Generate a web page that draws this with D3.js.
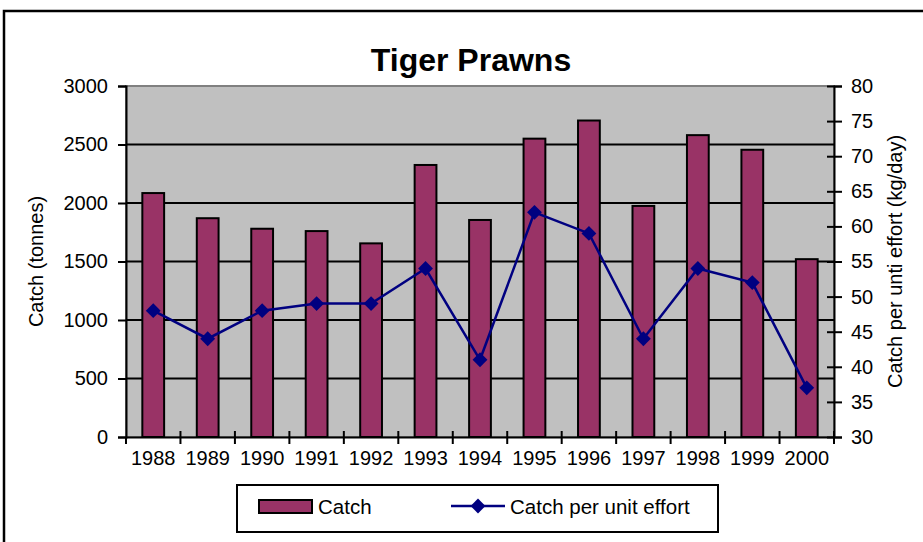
<!DOCTYPE html>
<html>
<head>
<meta charset="utf-8">
<script src="https://cdn.jsdelivr.net/npm/d3@7"></script>
<style>
  body { margin: 0; background: #fff; }
  text { font-family: "Liberation Sans", Arial, sans-serif; fill: #000; }
</style>
</head>
<body>
<div id="chart"></div>
<script>
// data
const years = ['1988', '1989', '1990', '1991', '1992', '1993', '1994',
  '1995', '1996', '1997', '1998', '1999', '2000'];
const catchTonnes = [2085, 1870, 1780, 1760, 1655, 2325, 1855,
  2550, 2705, 1975, 2580, 2455, 1520];
const cpue = [48, 44, 48, 49, 49, 54, 41, 62, 59, 44, 54, 52, 37];
const leftTicks = [0, 500, 1000, 1500, 2000, 2500, 3000];
const rightTicks = [30, 35, 40, 45, 50, 55, 60, 65, 70, 75, 80];

const W = 923, H = 542;
const plot = { left: 126, right: 834, top: 86, bottom: 437 };

const svg = d3.select('#chart')
  .append('svg')
  .attr('width', W)
  .attr('height', H);

// outer chart border (runs off the page on the right and bottom)
svg.append('rect')
  .attr('x', 4).attr('y', 11)
  .attr('width', 1000).attr('height', 1000)
  .attr('fill', 'none')
  .attr('stroke', '#000')
  .attr('stroke-width', 2.5);

// title
svg.append('text')
  .attr('x', 471)
  .attr('y', 71)
  .attr('text-anchor', 'middle')
  .style('font-size', '32px')
  .style('font-weight', 'bold')
  .text('Tiger Prawns');

// scales
const x = d3.scaleBand()
  .domain(years)
  .range([plot.left, plot.right]);
const yL = d3.scaleLinear().domain([0, 3000]).range([plot.bottom, plot.top]);
const yR = d3.scaleLinear().domain([30, 80]).range([plot.bottom, plot.top]);

// plot background
svg.append('rect')
  .attr('x', plot.left).attr('y', plot.top)
  .attr('width', plot.right - plot.left)
  .attr('height', plot.bottom - plot.top)
  .attr('fill', '#c0c0c0')
  .attr('stroke', '#808080')
  .attr('stroke-width', 2);

// gridlines
svg.append('g')
  .selectAll('line')
  .data(leftTicks.filter(d => d > 0 && d < 3000))
  .join('line')
  .attr('x1', plot.left).attr('x2', plot.right)
  .attr('y1', d => yL(d)).attr('y2', d => yL(d))
  .attr('stroke', '#000')
  .attr('stroke-width', 2);

// bars
const barW = x.bandwidth() * 0.4;
svg.append('g')
  .selectAll('rect')
  .data(years)
  .join('rect')
  .attr('x', d => x(d) + (x.bandwidth() - barW) / 2)
  .attr('y', (d, i) => yL(catchTonnes[i]))
  .attr('width', barW)
  .attr('height', (d, i) => plot.bottom - yL(catchTonnes[i]))
  .attr('fill', '#993366')
  .attr('stroke', '#000')
  .attr('stroke-width', 2);

// left axis
const axL = svg.append('g')
  .attr('transform', `translate(${plot.left},0)`)
  .call(d3.axisLeft(yL).tickValues(leftTicks).tickFormat(d3.format('d'))
    .tickSize(8).tickPadding(10));
axL.select('.domain').attr('stroke', '#000').attr('stroke-width', 2);
axL.selectAll('.tick line').attr('stroke', '#000').attr('stroke-width', 2);
axL.selectAll('.tick text').style('font-size', '20px');

// right axis (ticks cross the axis)
const axR = svg.append('g')
  .attr('transform', `translate(${plot.right},0)`)
  .call(d3.axisRight(yR).tickValues(rightTicks).tickFormat(d3.format('d'))
    .tickSize(8).tickPadding(9));
axR.select('.domain').attr('stroke', '#000').attr('stroke-width', 2);
axR.selectAll('.tick line')
  .attr('x1', -7).attr('x2', 8)
  .attr('stroke', '#000').attr('stroke-width', 2);
axR.selectAll('.tick text').style('font-size', '20px');

// bottom axis: ticks at category boundaries, crossing
const axB = svg.append('g')
  .attr('transform', `translate(0,${plot.bottom})`)
  .call(d3.axisBottom(x).tickSize(0).tickPadding(14));
axB.select('.domain').attr('stroke', '#000').attr('stroke-width', 2);
axB.selectAll('.tick text').style('font-size', '20px');
axB.selectAll('line.bound')
  .data(years.slice(1).concat(['end']))
  .join('line')
  .attr('class', 'bound')
  .attr('x1', d => d === 'end' ? plot.right : x(d))
  .attr('x2', d => d === 'end' ? plot.right : x(d))
  .attr('y1', -6).attr('y2', 7)
  .attr('stroke', '#000').attr('stroke-width', 2);
axB.append('line')
  .attr('x1', plot.left).attr('x2', plot.left)
  .attr('y1', 0).attr('y2', 7)
  .attr('stroke', '#000').attr('stroke-width', 2);

// CPUE line
const cx = d => x(d) + x.bandwidth() / 2;
const line = d3.line()
  .x(d => cx(d[0]))
  .y(d => yR(d[1]));
const pts = years.map((yr, i) => [yr, cpue[i]]);
svg.append('path')
  .datum(pts)
  .attr('d', line)
  .attr('fill', 'none')
  .attr('stroke', '#000080')
  .attr('stroke-width', 2.5);

const diamond = d3.symbol().type(d3.symbolDiamond2).size(140);
svg.append('g')
  .selectAll('path')
  .data(pts)
  .join('path')
  .attr('d', diamond)
  .attr('transform', d => `translate(${cx(d[0])},${yR(d[1])})`)
  .attr('fill', '#000080');

// axis titles
svg.append('text')
  .attr('transform', `translate(43,${(plot.top + plot.bottom) / 2}) rotate(-90)`)
  .attr('text-anchor', 'middle')
  .style('font-size', '20px')
  .text('Catch (tonnes)');

svg.append('text')
  .attr('transform', `translate(902,${(plot.top + plot.bottom) / 2}) rotate(-90)`)
  .attr('text-anchor', 'middle')
  .style('font-size', '20px')
  .text('Catch per unti effort (kg/day)');

// legend
const lg = svg.append('g');
lg.append('rect')
  .attr('x', 237).attr('y', 485)
  .attr('width', 481).attr('height', 47)
  .attr('fill', '#fff')
  .attr('stroke', '#000')
  .attr('stroke-width', 2);
lg.append('rect')
  .attr('x', 259).attr('y', 500)
  .attr('width', 53).attr('height', 13)
  .attr('fill', '#993366')
  .attr('stroke', '#000')
  .attr('stroke-width', 2);
lg.append('text')
  .attr('x', 318).attr('y', 514)
  .style('font-size', '20.5px')
  .text('Catch');
lg.append('line')
  .attr('x1', 451).attr('x2', 505)
  .attr('y1', 506).attr('y2', 506)
  .attr('stroke', '#000080')
  .attr('stroke-width', 2.5);
lg.append('path')
  .attr('d', diamond)
  .attr('transform', 'translate(478,506)')
  .attr('fill', '#000080');
lg.append('text')
  .attr('x', 510).attr('y', 514)
  .style('font-size', '20.5px')
  .text('Catch per unit effort');
</script>
</body>
</html>
